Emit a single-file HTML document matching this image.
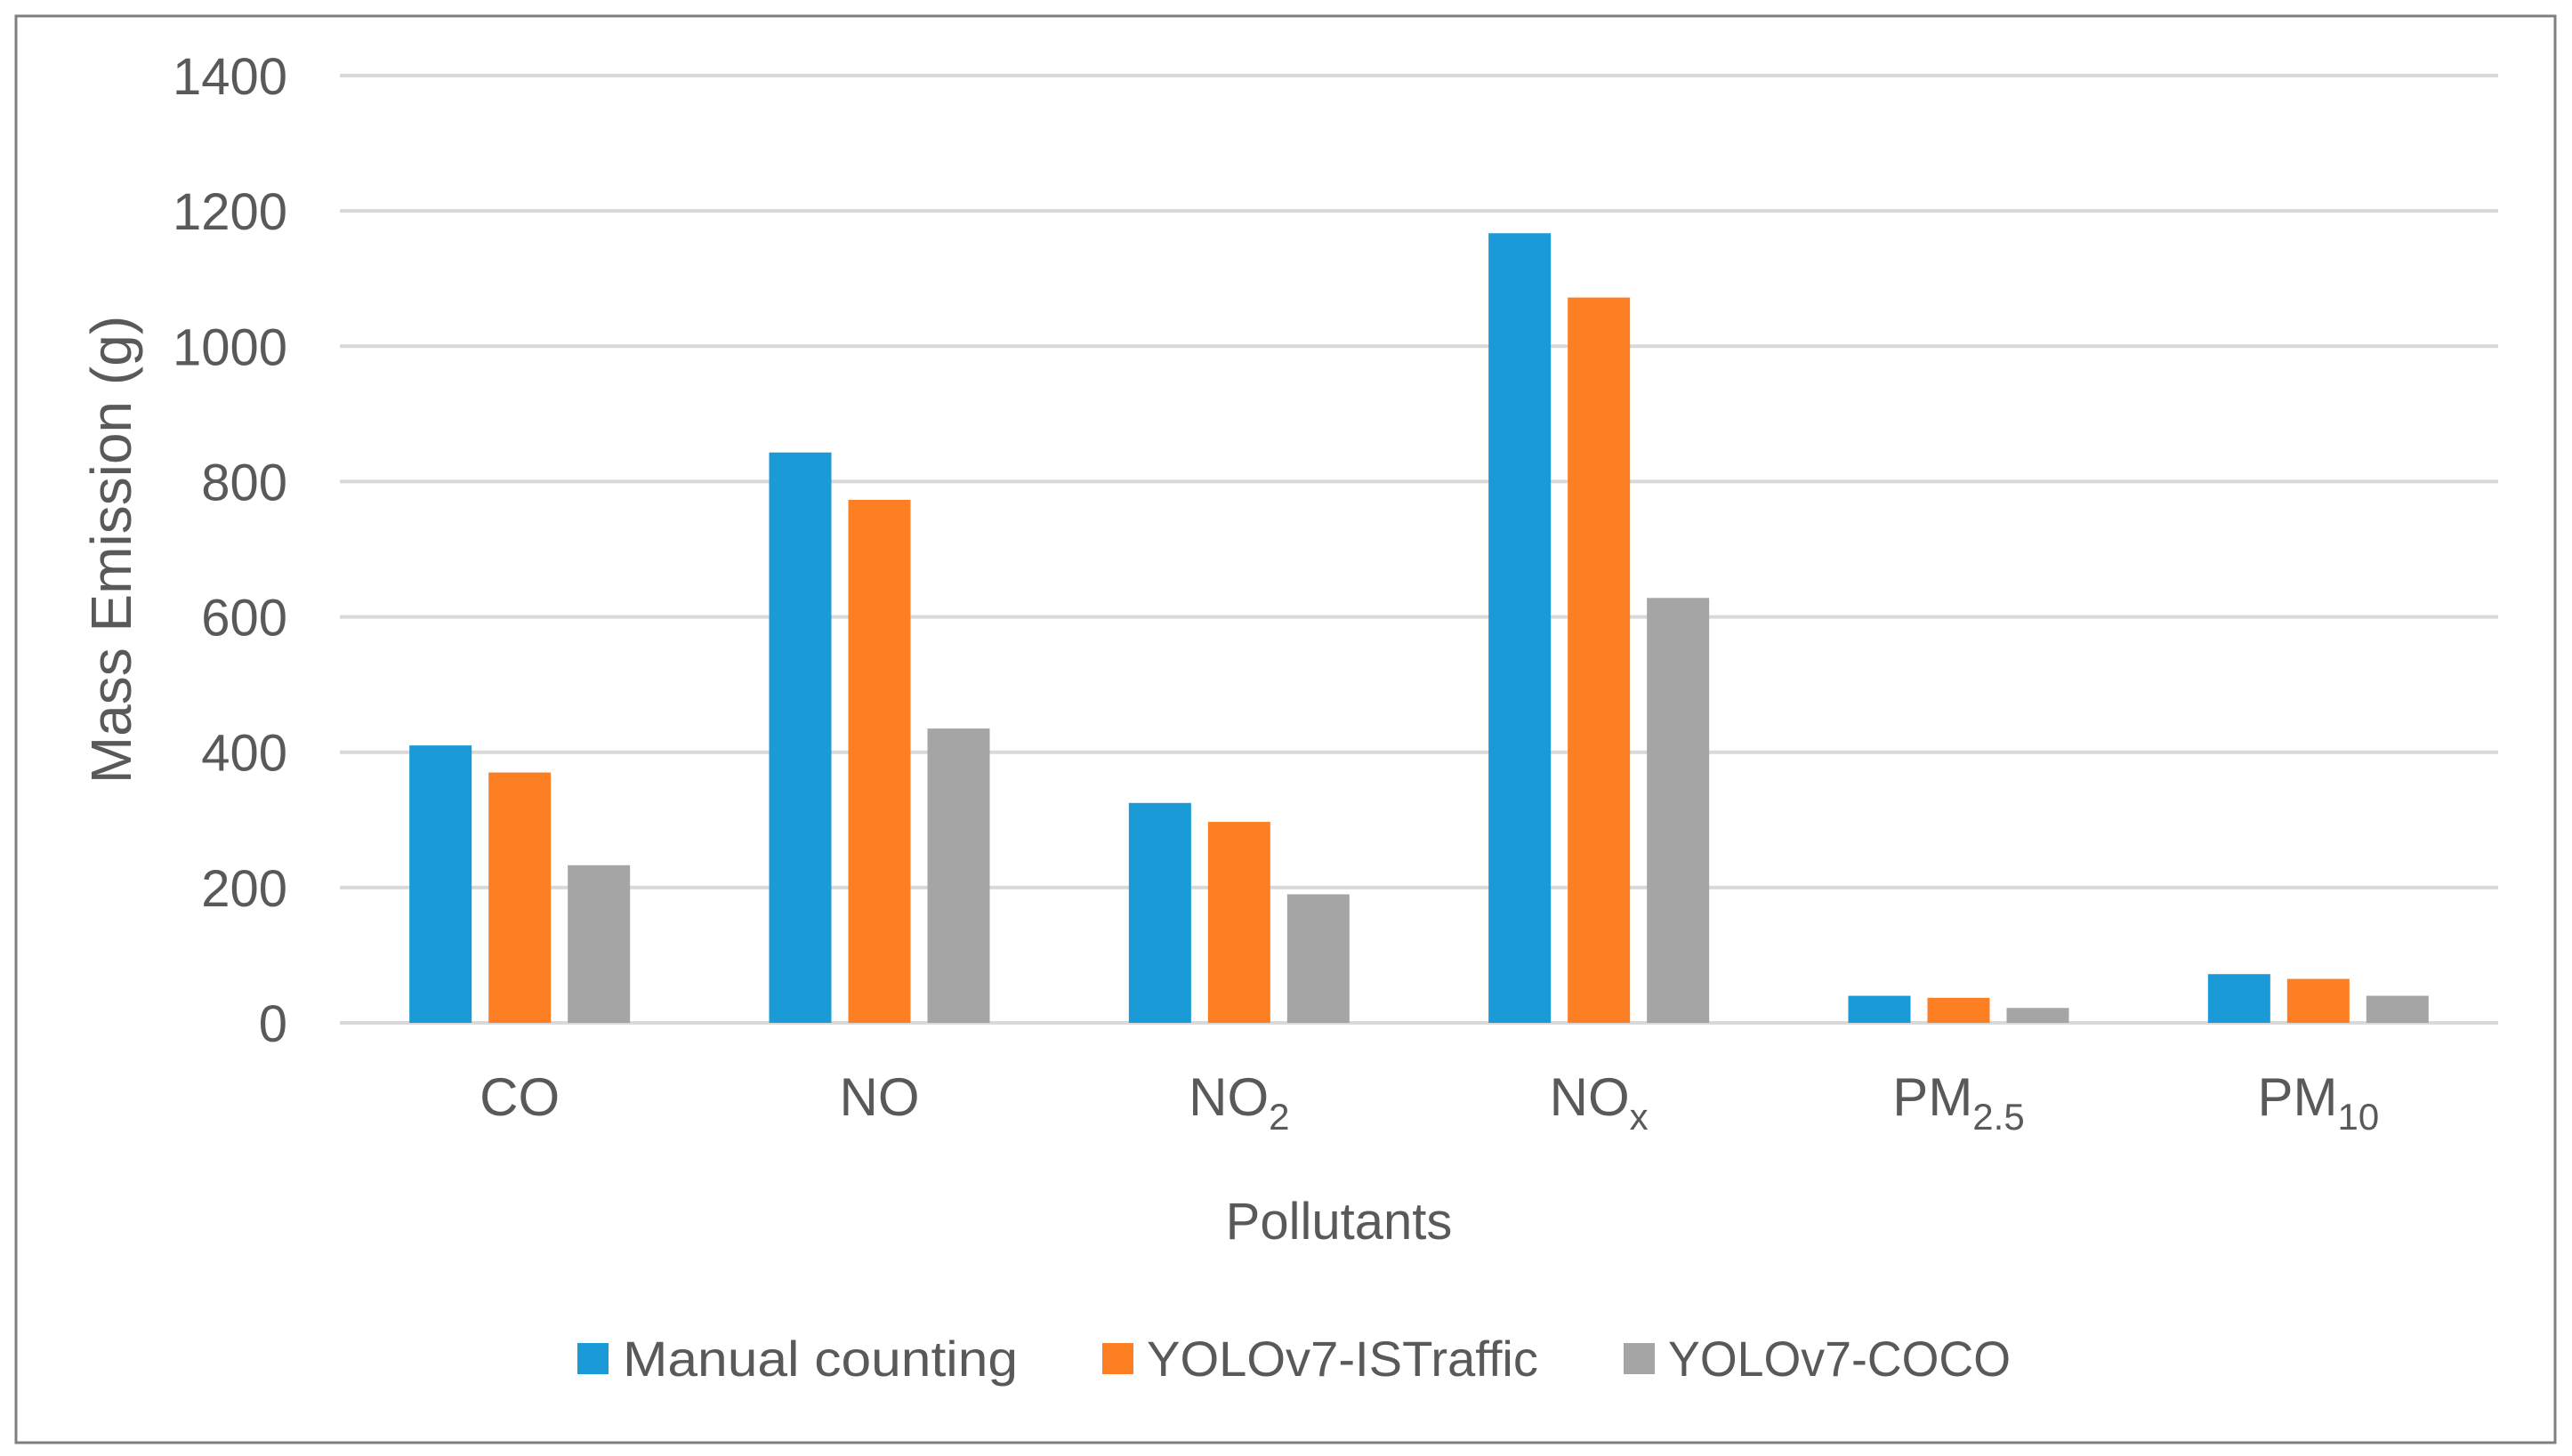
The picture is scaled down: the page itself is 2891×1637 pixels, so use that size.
<!DOCTYPE html>
<html><head><meta charset="utf-8"><style>
html,body{margin:0;padding:0;background:#fff;}
svg{display:block;font-family:"Liberation Sans",sans-serif;}
</style></head><body>
<svg id="chart" width="2891" height="1637" viewBox="0 0 2891 1637" xmlns="http://www.w3.org/2000/svg">
<rect x="18" y="18" width="2854" height="1604" fill="#fff" stroke="#7f7f7f" stroke-width="3"/>
<g id="grid"></g>
<g id="bars"></g>
<g id="labels" fill="#595959"></g>
<text transform="translate(147,618) rotate(-90)" text-anchor="middle" font-size="64" fill="#595959">Mass Emission (g)</text>
<text x="1505" y="1393" text-anchor="middle" font-size="58" fill="#595959">Pollutants</text>
<g font-size="56" fill="#595959">
<g><rect x="649" y="1510" width="35" height="35" fill="#1a9bd7"/><text x="700" y="1547" textLength="444" lengthAdjust="spacingAndGlyphs">Manual counting</text></g>
<g><rect x="1239" y="1510" width="35" height="35" fill="#fd7f23"/><text x="1289" y="1547" textLength="440" lengthAdjust="spacingAndGlyphs">YOLOv7-ISTraffic</text></g>
<g><rect x="1825" y="1510" width="35" height="35" fill="#a5a5a5"/><text x="1875" y="1547" textLength="385" lengthAdjust="spacingAndGlyphs">YOLOv7-COCO</text></g>
</g>
</svg>
<script>
const categories = ["CO","NO","NO2","NOx","PM2.5","PM10"];
const catMain = ["CO","NO","NO","NO","PM","PM"];
const catSub = ["","","2","x","2.5","10"];
const manual = [410, 843, 325, 1167, 40, 72];
const istraffic = [370, 773, 297, 1072, 37, 65];
const coco = [233, 435, 190, 628, 22, 40];
const yTicks = [0, 200, 400, 600, 800, 1000, 1200, 1400];

const NS = "http://www.w3.org/2000/svg";
const plotL = 382, plotR = 2808, y0 = 1150, yTop = 85, yMax = 1400;
const yScale = v => y0 - (v / yMax) * (y0 - yTop);
const bandW = (plotR - plotL) / categories.length;
const xCenter = i => plotL + bandW * (i + 0.5);
const barW = 70, barStep = 89;

const grid = document.getElementById('grid');
const labels = document.getElementById('labels');
yTicks.forEach(t => {
  const l = document.createElementNS(NS, 'line');
  
  
  l.setAttribute('x1', plotL); l.setAttribute('x2', plotR);
  l.setAttribute('y1', yScale(t)); l.setAttribute('y2', yScale(t));
  l.setAttribute('stroke', '#d9d9d9'); l.setAttribute('stroke-width', '4');
  grid.appendChild(l);
  const tx = document.createElementNS(NS, 'text');
  
  
  tx.setAttribute('x', 323); tx.setAttribute('y', yScale(t) + 21);
  tx.setAttribute('text-anchor', 'end'); tx.setAttribute('font-size', '58');
  tx.textContent = t;
  labels.appendChild(tx);
});

const series = [[manual, '#1a9bd7', 'manual'], [istraffic, '#fd7f23', 'istraffic'], [coco, '#a5a5a5', 'coco']];
const bars = document.getElementById('bars');
categories.forEach((c, i) => {
  series.forEach((s, k) => {
    const r = document.createElementNS(NS, 'rect');
    
    
    const cx = xCenter(i) + (k - 1) * barStep;
    r.setAttribute('x', cx - barW / 2);
    r.setAttribute('y', yScale(s[0][i]));
    r.setAttribute('width', barW);
    r.setAttribute('height', y0 - yScale(s[0][i]));
    r.setAttribute('fill', s[1]);
    bars.appendChild(r);
  });
  const tx = document.createElementNS(NS, 'text');
  
  
  tx.setAttribute('x', xCenter(i)); tx.setAttribute('y', 1254);
  tx.setAttribute('text-anchor', 'middle'); tx.setAttribute('font-size', '60');
  const m = document.createElementNS(NS, 'tspan');
  m.textContent = catMain[i];
  tx.appendChild(m);
  if (catSub[i]) {
    const s = document.createElementNS(NS, 'tspan');
    s.setAttribute('font-size', '42'); s.setAttribute('dy', '16');
    s.textContent = catSub[i];
    tx.appendChild(s);
  }
  labels.appendChild(tx);
});
</script>
</body></html>
